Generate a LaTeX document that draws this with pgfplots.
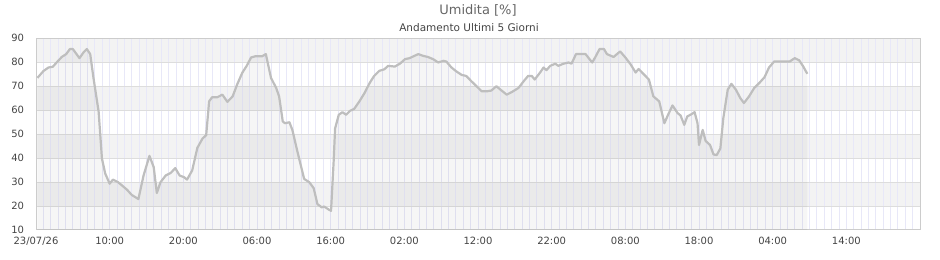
\documentclass[border=0pt]{standalone}
\usepackage{pgfplots}
\usepackage{pgfplotstable}
\pgfplotsset{compat=1.18}
\usepackage{fontspec}
\setmainfont{DejaVu Sans}
\definecolor{band}{HTML}{F3F3F3}
\definecolor{hgrid}{HTML}{DDDDDD}
\definecolor{vgrid}{HTML}{E8E8F8}
\definecolor{framec}{HTML}{CCCCCC}
\definecolor{linec}{HTML}{BEBEBE}
\definecolor{labc}{HTML}{444444}
\definecolor{titc}{HTML}{666666}
\pgfplotstableread{
h v
0.2 73.4
1.0 76.2
1.68 77.7
2.27 78
2.8 79.8
3.5 82.1
4.1 83.3
4.6 85.4
5.0 85.4
5.9 81.6
6.45 84
6.9 85.4
7.36 83.3
7.8 73.4
8.5 59.4
8.95 39.8
9.4 33.5
10.0 29.3
10.45 31
11.1 30
11.7 28.5
12.35 26.8
13.0 24.6
13.9 22.9
14.6 32.7
15.4 40.9
15.98 36.2
16.4 25.4
16.9 29.9
17.6 32.7
18.3 33.8
18.9 35.8
19.5 32.7
20.1 32
20.5 31
21.2 34.8
21.9 44.2
22.6 48.1
23.1 49.5
23.5 63.6
23.9 65.3
24.6 65.3
25.3 66.4
25.98 63.4
26.7 65.7
27.3 70.6
28.0 75.5
28.6 78.4
29.2 81.9
29.8 82.4
30.7 82.4
31.2 83.3
31.9 73.4
32.6 69.2
33.0 65.7
33.5 55.2
33.8 54.5
34.4 54.9
34.8 51.7
35.5 42.5
36.4 31.3
37.1 29.9
37.7 27.4
38.2 20.8
38.8 19.4
39.1 19.8
39.8 18.4
40.05 18.0
40.4 38.3
40.6 52.3
41.1 58
41.6 59.1
42.1 58
42.6 59.6
43.2 60.5
43.9 63.6
44.6 67.1
45.3 71.3
45.9 74.2
46.6 76.3
47.3 77
47.8 78.4
48.7 78.1
49.4 79.3
50.1 81.2
50.7 81.6
51.4 82.6
51.9 83.3
52.5 82.6
53.2 82.1
53.9 81.2
54.6 79.8
55.3 80.5
55.7 80.2
56.4 77.7
57.1 76
57.8 74.6
58.4 74.2
59.1 72
59.8 69.9
60.5 67.8
61.2 67.8
61.8 68.1
62.5 69.9
63.2 68.1
63.9 66.4
64.6 67.5
65.5 69.2
66.2 72
66.8 74.2
67.3 74.2
67.7 72.7
68.4 75.5
68.9 77.7
69.3 76.6
69.8 78.4
70.5 79.3
70.9 78.4
71.6 79.3
72.3 79.8
72.7 79.3
73.3 83.3
74.6 83.3
75.5 79.8
75.9 81.9
76.5 85.4
77.1 85.4
77.5 83.3
78.4 82.1
79.3 84.4
80.0 81.9
80.7 79.1
81.4 75.6
81.8 77.1
82.5 74.9
83.2 72.7
83.8 65.7
84.6 63.6
85.3 54.5
85.8 58
86.4 61.9
87.1 58.7
87.5 57.7
88.0 53.8
88.4 57.3
89.0 58.3
89.4 59.1
89.8 54.5
90.0 45.4
90.5 51.7
90.9 47.1
91.5 45.4
91.97 41.5
92.4 41.2
92.9 44
93.3 56.6
93.9 68.5
94.4 70.9
95.0 68.5
95.6 65
96.1 62.9
96.8 65.7
97.5 69.2
98.2 71.3
98.9 73.7
99.5 77.7
100.2 80.2
101.1 80.2
102.3 80.2
103.0 81.6
103.6 80.7
104.1 78.4
104.7 75.1
}\umid
\begin{document}
\begin{tikzpicture}
\path (0,0) rectangle (940bp,260bp);
\begin{axis}[
  at={(36bp,30bp)}, anchor=south west,
  scale only axis, width=884bp, height=192bp,
  xmin=0, xmax=120, ymin=10, ymax=90,
  set layers,
  xtick={0,10,...,110},
  xticklabels={23/07/26,10:00,20:00,06:00,16:00,02:00,12:00,22:00,08:00,18:00,04:00,14:00},
  minor xtick={0,1,...,120},
  ytick={10,20,...,90},
  major tick length=0pt, minor tick length=0pt,
  xmajorgrids, xminorgrids, ymajorgrids,
  x grid style={vgrid, line width=0.9bp},
  y grid style={hgrid, line width=1bp},
  axis line style={framec, line width=1bp},
  /pgf/number format/assume math mode=true,
  ticklabel style={font=\fontsize{10bp}{12bp}\selectfont, text=labc},
  yticklabel style={xshift=-8.5bp},
  xticklabel style={yshift=-3.7bp},
]
\addplot[draw=none, fill=band, on layer=axis background] coordinates {(0,20) (120,20) (120,30) (0,30)};
\addplot[draw=none, fill=band, on layer=axis background] coordinates {(0,40) (120,40) (120,50) (0,50)};
\addplot[draw=none, fill=band, on layer=axis background] coordinates {(0,60) (120,60) (120,70) (0,70)};
\addplot[draw=none, fill=band, on layer=axis background] coordinates {(0,80) (120,80) (120,90) (0,90)};
\addplot[draw=none, fill=black, fill opacity=0.035] table[x=h,y=v] {\umid} \closedcycle;
\addplot[linec, line width=2.2bp, line join=round] table[x=h,y=v] {\umid};
\end{axis}
\node[anchor=base, text=titc, font=\fontsize{13bp}{15bp}\selectfont] at (478bp,245bp) {Umidita [\%]};
\node[anchor=base, text=labc, font=\fontsize{10.5bp}{12bp}\selectfont] at (469bp,228.5bp) {Andamento Ultimi 5 Giorni};
\end{tikzpicture}
\end{document}
